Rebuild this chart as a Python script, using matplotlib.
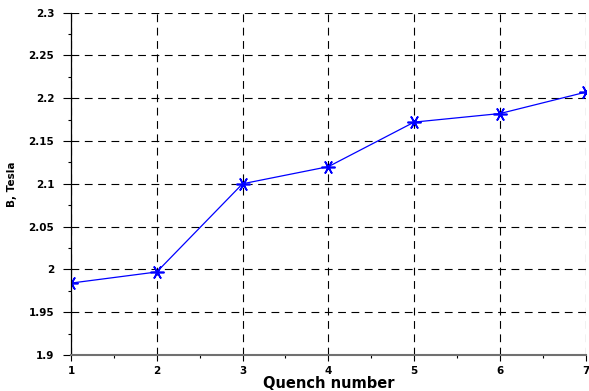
import matplotlib.pyplot as plt
from matplotlib.ticker import MultipleLocator

plt.rcParams['font.family'] = ['DejaVu Sans']

# data
quench = [1, 2, 3, 4, 5, 6, 7]
b_tesla = [1.984, 1.997, 2.100, 2.120, 2.172, 2.182, 2.207]
y_ticks = [1.9, 1.95, 2.0, 2.05, 2.1, 2.15, 2.2, 2.25, 2.3]
y_labels = ['1.9', '1.95', '2', '2.05', '2.1', '2.15', '2.2', '2.25', '2.3']

fig = plt.figure(figsize=(5.89, 3.91), dpi=100)
ax = fig.add_axes([0.1205, 0.092, 0.874, 0.876])

ax.plot(quench, b_tesla, color='#0000ff', linewidth=0.9,
        marker=(6, 2, 90), markersize=10, markeredgewidth=1.2)

ax.set_xlim(1, 7)
ax.set_ylim(1.9, 2.3)
ax.xaxis.set_major_locator(MultipleLocator(1))
ax.xaxis.set_minor_locator(MultipleLocator(0.5))
ax.yaxis.set_minor_locator(MultipleLocator(0.025))
ax.set_yticks(y_ticks)
ax.set_yticklabels(y_labels)

ax.grid(True, which='major', linestyle=(0, (7, 5)), color='black', linewidth=0.8)

for s in ['top', 'right']:
    ax.spines[s].set_visible(False)
ax.spines['left'].set_linewidth(0.9)
ax.spines['bottom'].set_color('#707070')
ax.spines['bottom'].set_linewidth(1.5)

ax.tick_params(axis='y', which='major', direction='out', length=6, width=0.8, labelsize=7.5, pad=6)
ax.tick_params(axis='y', which='minor', direction='out', length=2.5, width=0.8)
ax.tick_params(axis='x', which='major', direction='out', length=4, width=0.8, labelsize=7.5, pad=4)
ax.tick_params(axis='x', which='minor', direction='out', length=2, width=0.8)
for lab in ax.get_xticklabels() + ax.get_yticklabels():
    lab.set_fontweight('bold')

ax.set_xlabel('Quench number', fontsize=10.5, fontweight='bold', labelpad=0)
ax.set_ylabel('B, Tesla', fontsize=7.5, fontweight='bold', labelpad=8)

plt.savefig('out.png', dpi=100)
